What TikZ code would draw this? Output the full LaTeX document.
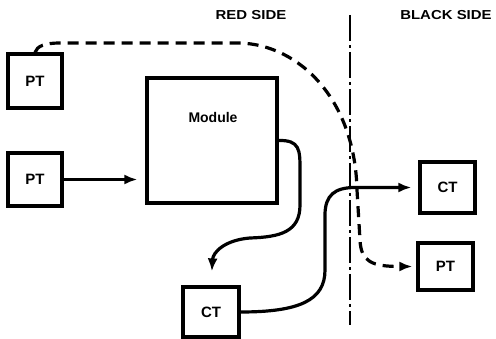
\documentclass[tikz,border=0pt]{standalone}
\usepackage{fontspec}
\setmainfont{Liberation Sans}
\usetikzlibrary{arrows.meta}
\begin{document}
\begin{tikzpicture}[x=1pt,y=-1pt,
  box/.style={draw,line width=3.2pt,inner sep=0pt,font=\bfseries\fontsize{15}{15}\selectfont},
  heading/.style={font=\bfseries\fontsize{13}{13}\selectfont,xscale=1.15,inner sep=0pt},
  wire/.style={line width=3.2pt,line cap=round},
  tipped/.style={-{Latex[length=13pt,width=10pt]}},
  dashwire/.style={line width=3.2pt,dash pattern=on 11pt off 7pt},
  divider/.style={line width=2.5pt,dash pattern=on 26pt off 4pt on 3pt off 4pt}]
\useasboundingbox (0,0) rectangle (496,339);
% boxes
\node[box,minimum width=54pt,minimum height=54pt] (pt1) at (35,81) {PT};
\node[box,minimum width=54pt,minimum height=53pt] (pt2) at (35,179.5) {PT};
\node[box,minimum width=130pt,minimum height=125pt] (mod) at (212,140.5) {};
\node[font=\bfseries\fontsize{14}{14}\selectfont,inner sep=0pt] (modlabel) at (213,117) {Module};
\node[box,minimum width=56pt,minimum height=50pt] (ctb) at (211,312) {CT};
\node[box,minimum width=55pt,minimum height=51pt] (ctr) at (447.5,187.5) {CT};
\node[box,minimum width=55pt,minimum height=47pt] (ptr) at (445.5,266.5) {PT};
% headings
\node[heading] (red) at (251,15) {RED SIDE};
\node[heading] (black) at (446,15) {BLACK SIDE};
% divider
\coordinate (vtop) at (350,15);
\coordinate (vbot) at (350,325);
\draw[divider] (vtop) -- (vbot);
% connectors
\draw[wire,tipped,shorten >=8pt] (pt2.east) -- (pt2.east -| mod.west);
\draw[wire,tipped,shorten >=14pt] (mod.east) .. controls (300,140) and (300,150) .. (300,170)
  -- (300,205) .. controls (300,232) and (280,237) .. (250,238)
  .. controls (225,240) and (213,252) .. (ctb.north);
\draw[wire,tipped,shorten >=7pt] (ctb.east) .. controls (300,312) and (325,300) .. (325,270)
  -- (325,215) .. controls (325,195) and (335,187.5) .. (355,187.5) -- (ctr.west);
\draw[dashwire,tipped,shorten >=4pt] (pt1.north) .. controls (37,46) and (45,43) .. (60,43)
  -- (240,43) .. controls (300,45) and (355,100) .. (357,190)
  -- (360,240) .. controls (361,262) and (372,266.5) .. (ptr.west);
\end{tikzpicture}
\end{document}
